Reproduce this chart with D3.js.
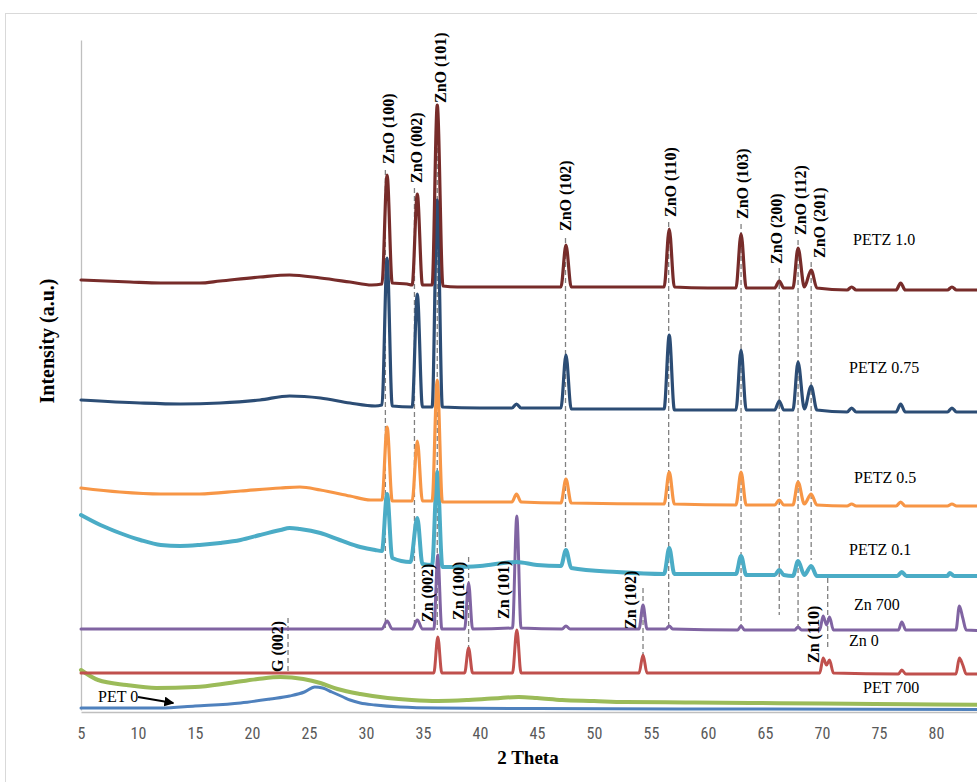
<!DOCTYPE html>
<html><head><meta charset="utf-8">
<script src="https://cdn.jsdelivr.net/npm/d3@7"></script>
<style>
html,body{margin:0;padding:0;background:#fff;}
svg{display:block;}
</style></head>
<body>
<svg id="chart" width="977" height="782"></svg>
<script>
// ---- data (2θ in degrees, intensity in a.u. with stacking offsets) ----
const xTicks = [5,10,15,20,25,30,35,40,45,50,55,60,65,70,75,80];

const petz10 = [[5,430],[9.3,428],[12,427],[15.4,427],[17.2,429],[20.7,433],[23.3,435],[26,432],[28.6,428],[30.5,425],[31.4,426],[31.85,535],[32.3,427],[33.6,426],[34.05,425],[34.5,516],[34.95,425],[35.8,425],[36.25,605],[36.75,424],[38,423],[42,423],[47.1,423],[47.54,465],[48,423],[52,423],[56.15,423],[56.6,481],[57.05,423],[60,422],[62.45,422],[62.9,476],[63.35,422],[65.85,422],[66.25,429],[66.65,422],[67.45,422],[67.9,462],[68.45,423],[69.05,440],[69.55,422],[72.2,420],[72.6,423],[73,420],[76.5,420],[76.9,427],[77.3,420],[81,420],[81.4,423],[81.8,420],[85,420]];

const petz075 = [[5,310],[10.2,307],[13.7,306],[17.2,307],[20.7,310],[23.3,314],[26,312],[28.6,307],[30.8,304],[31.4,305],[31.85,452],[32.3,304],[34.05,303],[34.5,416],[34.95,303],[35.8,303],[36.25,510],[36.7,303],[40,302],[42.8,302],[43.2,306],[43.6,302],[47.1,302],[47.54,355],[48,301],[56.15,301],[56.6,375],[57.05,300],[62.45,300],[62.9,360],[63.35,300],[65.85,300],[66.25,309],[66.65,300],[67.45,300],[67.9,348],[68.45,301],[69.05,324],[69.55,300],[72.2,298],[72.6,302],[73,298],[76.5,298],[76.9,306],[77.3,298],[81,298],[81.4,302],[81.8,298],[85,298]];

const petz05 = [[5,222],[8.4,218],[12,216],[15.4,216],[19,219],[22.5,222],[24.2,223],[26,220],[28.6,214],[30.4,210],[31.4,210],[31.85,283],[32.3,209],[34.05,209],[34.5,269],[34.95,209],[35.8,209],[36.25,330],[36.7,208],[40,208],[42.8,208],[43.2,216],[43.6,208],[47.1,207],[47.54,231],[48,207],[56.15,206],[56.6,238],[57.05,206],[62.45,205],[62.9,238],[63.35,205],[65.85,205],[66.25,210],[66.65,205],[67.45,205],[67.9,228],[68.45,206],[69.05,216],[69.55,205],[72.2,204],[72.6,206],[73,204],[76.5,204],[76.9,208],[77.3,204],[81,204],[81.4,206],[81.8,204],[85,204]];

const petz01 = [[5,195],[6.7,185],[8.4,177],[10.2,170],[12,165],[13.7,164],[15.4,165],[17.2,167],[19,170],[20.7,175],[22.5,180],[23.3,182],[24.2,181],[26,177],[27.7,170],[29.5,163],[30.8,160],[31.4,159],[31.85,216],[32.3,152],[33.9,148],[34.5,192],[34.95,146],[35.8,145],[36.25,238],[36.7,143],[38,143],[40,144],[43.2,148],[45,145],[47.1,144],[47.54,160],[48,142],[52,138],[56.15,136],[56.6,162],[57.05,136],[60,136],[62.45,136],[62.9,154],[63.35,135],[65.85,135],[66.25,140],[66.65,135],[67.45,134],[67.9,149],[68.45,135],[69.05,144],[69.55,134],[72,134],[76.6,134],[77,138],[77.4,134],[81,134],[81.2,137],[81.6,134],[85,134]];

const zn700 = [[5,81],[31.4,81],[31.85,89],[32.3,81],[34.05,81],[34.5,90],[34.95,81],[35.95,81],[36.3,155],[36.65,81],[38.65,81],[39.0,127],[39.35,81],[42.85,82],[43.23,194],[43.6,82],[47.2,81],[47.54,84],[47.9,81],[53.95,81],[54.3,105],[54.65,81],[56.3,81],[56.6,84],[56.9,81],[62.6,80],[62.9,84],[63.2,80],[67.6,80],[67.9,83],[68.2,80],[69.8,80],[70.1,94],[70.4,85],[70.66,93],[71,80],[76.7,80],[77,88],[77.35,80],[81.75,80],[82.05,104],[82.35,92],[82.65,80],[85,79]];

const zn0 = [[5,37],[35.95,37],[36.3,73],[36.65,37],[38.65,37],[39,62],[39.35,37],[42.85,37],[43.23,80],[43.6,37],[53.95,37],[54.3,55],[54.65,37],[69.8,37],[70.1,52],[70.4,45],[70.66,50],[71,37],[76.7,36],[77,40],[77.35,36],[81.75,36],[82.05,52],[82.35,45],[82.65,36],[85,36]];

const pet700 = [[5,40],[6.5,30],[9,25],[11.6,22],[15,23],[18,27],[20.5,31],[22.5,33],[24.5,31],[26,27],[27.5,21],[29.5,16],[31.9,12],[34,10],[36.3,9],[39,10],[41.8,12],[43.4,13],[45,12],[47.2,10],[50,9],[52.7,8],[58,7.5],[63.7,7],[70,6.5],[74.6,6],[80,5.5],[85,5]];

const pet0 = [[5,2],[12,2],[15,4],[19,7],[21.6,11],[23.3,14],[24.6,18],[25.5,23],[26.2,22],[27,18],[28,13],[28.6,10],[29.5,7],[30.8,5],[33,3],[36.3,2],[45,1.5],[60,1],[85,0.5]];

const seriesNames = ["PET 0","PET 700","Zn 0","Zn 700","PETZ 0.1","PETZ 0.5","PETZ 0.75","PETZ 1.0"];
const seriesData = [pet0, pet700, zn0, zn700, petz01, petz05, petz075, petz10];
const seriesColors = ["#4f81bd","#9bbb59","#c0504d","#8064a2","#4bacc6","#f79646","#2c4d75","#772c2a"];
const seriesWidths = [3,4,3,3,4,3.2,3.2,3.2];

// series name labels (2θ, intensity where the text baseline sits)
const seriesLabelTheta = [6.49,73.6,72.37,72.81,72.37,72.81,72.37,72.72];
const seriesLabelAt    = [8,17,64,100,155,227,337,465];

// reflection labels
const peakLabels = ["ZnO (100)","ZnO (002)","ZnO (101)","ZnO (102)","ZnO (110)","ZnO (103)","ZnO (200)","ZnO (112)","ZnO (201)","Zn (002)","Zn (100)","Zn (101)","Zn (102)","Zn (110)","G (002)"];
const peakLabelTheta = [31.93,34.39,36.49,47.46,56.67,62.98,65.96,68.07,69.74,35.35,38.07,42.02,53.16,69.21,22.19];
const peakLabelAt    = [546,527,607,479,493,491,446,475,452,88,90,91,81,47,38];

// dashed guide lines (2θ, from intensity, to intensity)
const guideTheta = [31.7,34.25,36.25,47.5,56.55,62.9,66.25,67.9,69.05,39.0,54.3,70.5,23.16];
const guideTop   = [540,522,602,472,488,486,442,470,448,153,122,132,92];
const guideBot   = [82,82,80,155,82,82,95,80,150,55,50,60,38];

// ---- layout ----
const svg = d3.select("#chart");
const W = 977, H = 782;
const x = d3.scaleLinear().domain([5, 90]).range([81, 81 + 85 * 11.4]);
const y = d3.scaleLinear().domain([0, 670]).range([710, 40]);

svg.append("rect").attr("width", W).attr("height", H).attr("fill", "#fff");
svg.append("rect").attr("x", 5.5).attr("y", 13.5).attr("width", 1100).attr("height", 900)
  .attr("fill", "none").attr("stroke", "#d9d9d9").attr("stroke-width", 1);

// axes
const yAxisG = svg.append("g").attr("transform", `translate(${x(5)},0)`)
  .call(d3.axisLeft(y).tickValues([]).tickSizeOuter(0));
yAxisG.select(".domain").attr("stroke", "#bfbfbf").attr("stroke-width", 1.3);

const xAxisG = svg.append("g").attr("transform", `translate(0,${y(0) + 2})`)
  .call(d3.axisBottom(x).tickValues(xTicks).tickSize(0).tickPadding(16).tickFormat(d3.format("d")));
xAxisG.select(".domain").attr("stroke", "#bfbfbf").attr("stroke-width", 1.3);
xAxisG.selectAll("text").attr("font-family", "'Liberation Sans Narrow','Arial Narrow','Roboto Condensed',sans-serif")
  .attr("font-size", 16).attr("fill", "#595959");

svg.append("text").attr("x", 528).attr("y", 764).attr("text-anchor", "middle")
  .attr("font-family", "'Liberation Serif','Times New Roman',serif").attr("font-weight", "bold")
  .attr("font-size", 19).attr("fill", "#000").text("2 Theta");

svg.append("text").attr("transform", "translate(54,341) rotate(-90)").attr("text-anchor", "middle")
  .attr("font-family", "'Liberation Serif','Times New Roman',serif").attr("font-weight", "bold")
  .attr("font-size", 20).attr("fill", "#000").text("Intensity (a.u.)");

// dashed guides
svg.append("g").selectAll("line").data(guideTheta).join("line")
  .attr("x1", d => x(d)).attr("x2", d => x(d))
  .attr("y1", (d, i) => y(guideTop[i])).attr("y2", (d, i) => y(guideBot[i]))
  .attr("stroke", "#808080").attr("stroke-width", 1.3).attr("stroke-dasharray", "5,3");

// series
const line = d3.line().x(d => x(d[0])).y(d => y(d[1])).curve(d3.curveMonotoneX);
svg.append("g").selectAll("path").data(seriesData).join("path")
  .attr("d", line).attr("fill", "none")
  .attr("stroke", (d, i) => seriesColors[i])
  .attr("stroke-width", (d, i) => seriesWidths[i])
  .attr("stroke-linejoin", "round").attr("stroke-linecap", "round");

// peak labels
svg.append("g").selectAll("text").data(peakLabels).join("text")
  .attr("transform", (d, i) => `translate(${x(peakLabelTheta[i])},${y(peakLabelAt[i])}) rotate(-90)`)
  .attr("dy", "0.35em")
  .attr("font-family", "'Liberation Serif','Times New Roman',serif").attr("font-weight", "bold")
  .attr("font-size", 16).attr("fill", "#000").text(d => d);

// series labels
svg.append("g").selectAll("text").data(seriesNames).join("text")
  .attr("x", (d, i) => x(seriesLabelTheta[i])).attr("y", (d, i) => y(seriesLabelAt[i]))
  .attr("font-family", "'Liberation Serif','Times New Roman',serif")
  .attr("font-size", 16).attr("fill", "#000").text(d => d);

// arrow for PET 0
const defs = svg.append("defs");
defs.append("marker").attr("id", "ah").attr("viewBox", "0 0 10 10").attr("refX", 9).attr("refY", 5)
  .attr("markerWidth", 5).attr("markerHeight", 5).attr("orient", "auto")
  .append("path").attr("d", "M0,0L10,5L0,10z").attr("fill", "#000");
svg.append("line").attr("x1", x(10.0)).attr("y1", y(13)).attr("x2", x(13.1)).attr("y2", y(7))
  .attr("stroke", "#000").attr("stroke-width", 2).attr("marker-end", "url(#ah)");
</script>
</body></html>
